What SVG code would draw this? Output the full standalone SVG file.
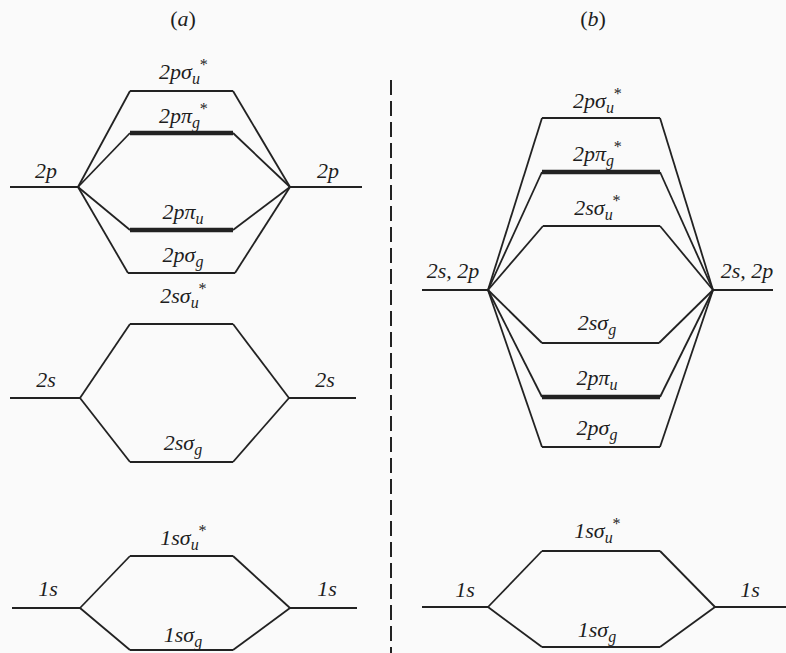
<svg xmlns="http://www.w3.org/2000/svg" width="786" height="653" viewBox="0 0 786 653">
<style>
.lv{stroke:#222;stroke-width:2;fill:none}
.tk{stroke:#222;stroke-width:4.5;fill:none}
.cn line{stroke:#222;stroke-width:1.8}
text{font-family:"Liberation Serif","DejaVu Serif",serif;font-style:italic;font-size:22px;fill:#1e1e1e;text-anchor:middle}
.s{font-size:16px}
.dash{stroke:#222;stroke-width:2;stroke-dasharray:15 6}
</style>
<rect width="786" height="653" fill="#fafafa"/>
<text x="183" y="26"><tspan font-style="normal">(</tspan>a<tspan font-style="normal">)</tspan></text>
<text x="593" y="26"><tspan font-style="normal">(</tspan>b<tspan font-style="normal">)</tspan></text>
<line class="dash" x1="391" y1="80" x2="391" y2="653"/>

<!-- Panel (a) -->
<g id="a-2p-left"><line class="lv" x1="10" y1="187" x2="78" y2="187"/><text x="46" y="178">2p</text></g>
<g id="a-2p-right"><line class="lv" x1="290" y1="187" x2="362" y2="187"/><text x="328" y="178">2p</text></g>
<g id="a-2psu"><line class="lv" x1="130" y1="91" x2="233" y2="91"/><text x="183" y="79">2pσ<tspan class="s" dy="5">u</tspan><tspan class="s" dx="-1" dy="-14">*</tspan></text></g>
<g id="a-2ppg"><line class="tk" x1="130" y1="133" x2="233" y2="133"/><text x="183" y="123">2pπ<tspan class="s" dy="5">g</tspan><tspan class="s" dx="-1" dy="-14">*</tspan></text></g>
<g id="a-2ppu"><line class="tk" x1="130" y1="230" x2="233" y2="230"/><text x="183" y="219">2pπ<tspan class="s" dy="5">u</tspan></text></g>
<g id="a-2psg"><line class="lv" x1="128" y1="273" x2="235" y2="273"/><text x="183" y="262">2pσ<tspan class="s" dy="5">g</tspan></text></g>
<g id="a-2s-left"><line class="lv" x1="10" y1="398" x2="80" y2="398"/><text x="46" y="387">2s</text></g>
<g id="a-2s-right"><line class="lv" x1="289" y1="398" x2="356" y2="398"/><text x="325" y="387">2s</text></g>
<g id="a-2ssu"><line class="lv" x1="130" y1="324" x2="233" y2="324"/><text x="183" y="303">2sσ<tspan class="s" dy="5">u</tspan><tspan class="s" dx="-1" dy="-14">*</tspan></text></g>
<g id="a-2ssg"><line class="lv" x1="130" y1="462" x2="233" y2="462"/><text x="183" y="450">2sσ<tspan class="s" dy="5">g</tspan></text></g>
<g id="a-1s-left"><line class="lv" x1="12" y1="608" x2="80" y2="608"/><text x="48" y="596">1s</text></g>
<g id="a-1s-right"><line class="lv" x1="290" y1="608" x2="357" y2="608"/><text x="327" y="596">1s</text></g>
<g id="a-1ssu"><line class="lv" x1="130" y1="556" x2="233" y2="556"/><text x="183" y="545">1sσ<tspan class="s" dy="5">u</tspan><tspan class="s" dx="-1" dy="-14">*</tspan></text></g>
<g id="a-1ssg"><line class="lv" x1="130" y1="650" x2="233" y2="650"/><text x="183" y="642">1sσ<tspan class="s" dy="5">g</tspan></text></g>

<!-- Panel (b) -->
<g id="b-2s2p-left"><line class="lv" x1="422" y1="290" x2="488" y2="290"/><text x="453" y="278">2s, 2p</text></g>
<g id="b-2s2p-right"><line class="lv" x1="713" y1="290" x2="773" y2="290"/><text x="747" y="278">2s, 2p</text></g>
<g id="b-2psu"><line class="lv" x1="542" y1="118" x2="660" y2="118"/><text x="597" y="108">2pσ<tspan class="s" dy="5">u</tspan><tspan class="s" dx="-1" dy="-14">*</tspan></text></g>
<g id="b-2ppg"><line class="tk" x1="542" y1="172" x2="660" y2="172"/><text x="597" y="161">2pπ<tspan class="s" dy="5">g</tspan><tspan class="s" dx="-1" dy="-14">*</tspan></text></g>
<g id="b-2ssu"><line class="lv" x1="543" y1="226" x2="660" y2="226"/><text x="597" y="215">2sσ<tspan class="s" dy="5">u</tspan><tspan class="s" dx="-1" dy="-14">*</tspan></text></g>
<g id="b-2ssg"><line class="lv" x1="542" y1="343" x2="659" y2="343"/><text x="597" y="330">2sσ<tspan class="s" dy="5">g</tspan></text></g>
<g id="b-2ppu"><line class="tk" x1="542" y1="397" x2="660" y2="397"/><text x="597" y="385">2pπ<tspan class="s" dy="5">u</tspan></text></g>
<g id="b-2psg"><line class="lv" x1="542" y1="447" x2="660" y2="447"/><text x="597" y="435">2pσ<tspan class="s" dy="5">g</tspan></text></g>
<g id="b-1s-left"><line class="lv" x1="422" y1="607" x2="488" y2="607"/><text x="465" y="597">1s</text></g>
<g id="b-1s-right"><line class="lv" x1="715" y1="607" x2="786" y2="607"/><text x="750" y="597">1s</text></g>
<g id="b-1ssu"><line class="lv" x1="542" y1="551" x2="660" y2="551"/><text x="597" y="538">1sσ<tspan class="s" dy="5">u</tspan><tspan class="s" dx="-1" dy="-14">*</tspan></text></g>
<g id="b-1ssg"><line class="lv" x1="542" y1="647" x2="660" y2="647"/><text x="597" y="637">1sσ<tspan class="s" dy="5">g</tspan></text></g>

<g id="connectors" class="cn">
<line x1="78" y1="187" x2="130" y2="91"/><line x1="78" y1="187" x2="130" y2="133"/><line x1="78" y1="187" x2="130" y2="230"/><line x1="78" y1="187" x2="128" y2="273"/>
<line x1="290" y1="187" x2="233" y2="91"/><line x1="290" y1="187" x2="233" y2="133"/><line x1="290" y1="187" x2="233" y2="230"/><line x1="290" y1="187" x2="235" y2="273"/>
<line x1="80" y1="398" x2="130" y2="324"/><line x1="80" y1="398" x2="130" y2="462"/>
<line x1="289" y1="398" x2="233" y2="324"/><line x1="289" y1="398" x2="233" y2="462"/>
<line x1="80" y1="608" x2="130" y2="556"/><line x1="80" y1="608" x2="130" y2="650"/>
<line x1="290" y1="608" x2="233" y2="556"/><line x1="290" y1="608" x2="233" y2="650"/>
<line x1="488" y1="290" x2="542" y2="118"/><line x1="488" y1="290" x2="542" y2="172"/><line x1="488" y1="290" x2="543" y2="226"/><line x1="488" y1="290" x2="542" y2="343"/><line x1="488" y1="290" x2="542" y2="397"/><line x1="488" y1="290" x2="542" y2="447"/>
<line x1="713" y1="290" x2="660" y2="118"/><line x1="713" y1="290" x2="660" y2="172"/><line x1="713" y1="290" x2="660" y2="226"/><line x1="713" y1="290" x2="659" y2="343"/><line x1="713" y1="290" x2="660" y2="397"/><line x1="713" y1="290" x2="660" y2="447"/>
<line x1="488" y1="607" x2="542" y2="551"/><line x1="488" y1="607" x2="542" y2="647"/>
<line x1="715" y1="607" x2="660" y2="551"/><line x1="715" y1="607" x2="660" y2="647"/>
</g>
</svg>
